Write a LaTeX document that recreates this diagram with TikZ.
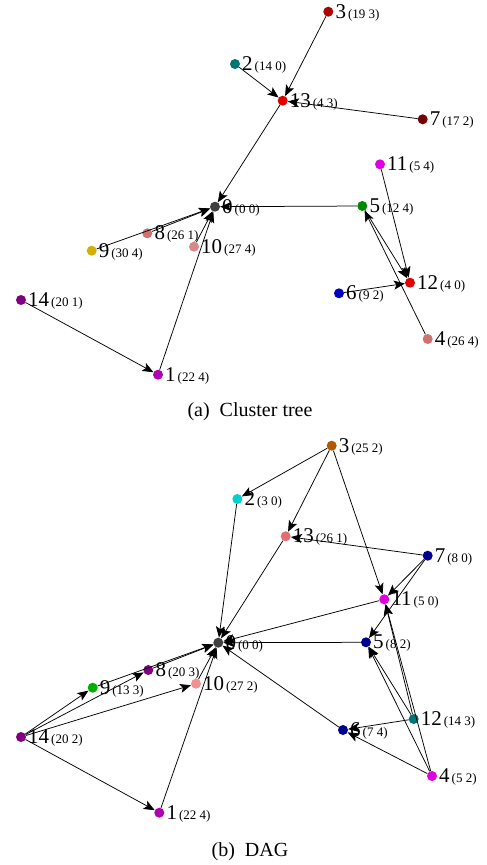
\documentclass[tikz,border=0pt]{standalone}
\usepackage{fontspec}
\setmainfont{Liberation Serif}
\usetikzlibrary{arrows.meta}

\definecolor{cdark}{HTML}{404040}
\definecolor{cdred}{HTML}{B00000}
\definecolor{cred}{HTML}{E00000}
\definecolor{cmaroon}{HTML}{780000}
\definecolor{cteal}{HTML}{007575}
\definecolor{cmag}{HTML}{E000E0}
\definecolor{cpurp}{HTML}{B000B0}
\definecolor{cviolet}{HTML}{800080}
\definecolor{cgreen}{HTML}{008800}
\definecolor{clime}{HTML}{00B000}
\definecolor{csalmon}{HTML}{D07070}
\definecolor{clsalmon}{HTML}{D88888}
\definecolor{cpink}{HTML}{F09090}
\definecolor{ccoral}{HTML}{E07070}
\definecolor{cgold}{HTML}{D4B000}
\definecolor{cblue}{HTML}{0000C0}
\definecolor{cnavy}{HTML}{000090}
\definecolor{ccyan}{HTML}{00D0D0}
\definecolor{cbrown}{HTML}{B05A00}

\begin{document}
\begin{tikzpicture}[
    x=1pt, y=-1pt,
    vtx/.style={circle, inner sep=0pt, minimum size=10pt, fill=#1},
    tag/.style={anchor=base west, inner sep=0pt},
    edge/.style={-{Stealth[length=11pt,width=9pt,inset=2.5pt]}, line width=0.75pt},
    caption/.style={anchor=base, font=\fontsize{20}{24}\selectfont}
]
\useasboundingbox (0,0) rectangle (487,865);

% (a) cluster tree
\foreach \n/\x/\y/\c/\p in {0/215/206.7/cdark/0 0, 1/158/374.7/cpurp/22 4, 2/235/64/cteal/14 0,
    3/328.3/11.7/cdred/19 3, 4/427.7/339/csalmon/26 4, 5/362.3/206/cgreen/12 4,
    6/339/293.3/cblue/9 2, 7/422.7/119.3/cmaroon/17 2, 8/147.3/233.3/csalmon/26 1,
    9/91.7/250.7/cgold/30 4, 10/194/246.7/clsalmon/27 4, 11/380/164.3/cmag/5 4,
    12/410/282.7/cred/4 0, 13/282.7/100.7/cred/4 3, 14/21/300/cviolet/20 1}
{
  \node[vtx=\c] (a\n) at (\x,\y) {};
  \node[tag] (a\n l) at (\x+7,\y+6.6) {{\fontsize{21}{21}\selectfont\n}\hspace{2pt}{\fontsize{13}{13}\selectfont(\p)}};
}
\foreach \i/\j in {3/13, 2/13, 7/13, 13/0, 5/0, 8/0, 9/0, 10/0, 1/0, 14/1, 11/12, 5/12, 6/12, 4/5}
  \draw[edge] (a\i) -- (a\j);
\node[caption] (capa) at (250,416.5) {(a)\hspace{0.5em}Cluster tree};

% (b) DAG
\foreach \n/\x/\y/\c/\p in {0/218.3/642.7/cdark/0 0, 1/159.3/812.7/cpurp/22 4, 2/237.3/499/ccyan/3 0,
    3/331.7/445.7/cbrown/25 2, 4/432/776/cmag/5 2, 5/366/642.3/cnavy/8 2,
    6/343/730/cnavy/7 4, 7/427.7/555.7/cnavy/8 0, 8/148.3/670/cviolet/20 3,
    9/92.7/687.7/clime/13 3, 10/196/683.7/cpink/27 2, 11/384.3/599.3/cmag/5 0,
    12/413.7/719/cteal/14 3, 13/285.7/536.3/ccoral/26 1, 14/21/737/cviolet/20 2}
{
  \node[vtx=\c] (b\n) at (\x,\y) {};
  \node[tag] (b\n l) at (\x+7,\y+6.6) {{\fontsize{21}{21}\selectfont\n}\hspace{2pt}{\fontsize{13}{13}\selectfont(\p)}};
}
\foreach \i/\j in {3/2, 3/13, 3/11, 7/13, 7/11, 7/5, 2/0, 13/0, 11/0, 5/0, 6/0, 8/0, 9/0,
    10/0, 1/0, 14/9, 14/8, 14/10, 14/1, 12/11, 4/11, 12/5, 4/5, 12/6, 4/6}
  \draw[edge] (b\i) -- (b\j);
\node[caption] (capb) at (250,856) {(b)\hspace{0.5em}DAG};
\end{tikzpicture}
\end{document}
